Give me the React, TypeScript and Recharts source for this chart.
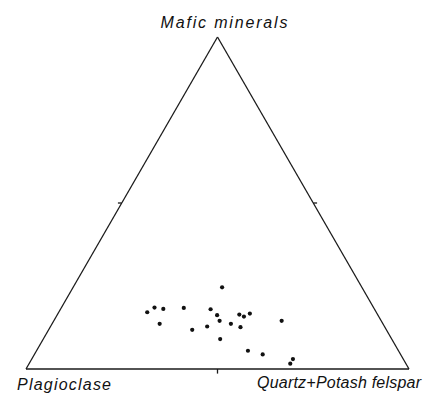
import React from "react";
import { ScatterChart, Scatter, XAxis, YAxis, ReferenceLine, ReferenceDot } from "recharts";

// Modal composition of each sample, in percent (mafic minerals, plagioclase, quartz + potash felspar)
const mafic = [24.6, 17.1, 18.5, 18.1, 18.4, 13.6, 11.8, 12.8, 18.0, 16.2, 14.5, 9.0, 13.6, 16.4, 15.8, 16.7, 12.6, 14.5, 5.5, 4.4, 3.0, 1.6];
const plagioclase = [36.5, 59.8, 57.2, 55.1, 49.6, 58.3, 50.7, 46.3, 42.8, 42.0, 42.2, 44.8, 39.7, 36.1, 35.2, 33.2, 37.7, 26.0, 39.3, 36.0, 28.8, 30.2];
const quartzFelspar = [38.9, 23.1, 24.3, 26.8, 32.0, 28.1, 37.5, 40.9, 39.2, 41.8, 43.3, 46.2, 46.7, 47.5, 49.0, 50.1, 49.7, 59.5, 55.2, 59.6, 68.2, 68.2];

// Corner names of the diagram
const apexLabels = ["Mafic minerals", "Plagioclase", "Quartz+Potash felspar"];

const H = Math.sqrt(3) / 2 * 100;

// Ternary -> cartesian (plagioclase at bottom-left, quartz+felspar bottom-right, mafic at apex)
const points = mafic.map((m, i) => {
  const total = m + plagioclase[i] + quartzFelspar[i];
  const M = (m / total) * 100;
  const Q = (quartzFelspar[i] / total) * 100;
  return { x: Q + M / 2, y: (M * Math.sqrt(3)) / 2 };
});

const Dot = (props: any) => <circle cx={props.cx} cy={props.cy} r={2.1} fill="#111" />;

const LabelText = (dx: number, dy: number, len: number, text: string) => (props: any) => (
  <text
    x={props.cx + dx}
    y={props.cy + dy}
    textAnchor="start"
    textLength={len}
    lengthAdjust="spacing"
    style={{
      fontFamily: "'Liberation Sans', Arial, sans-serif",
      fontStyle: "italic",
      fontSize: 16,
      fill: "#111",
    }}
  >
    {text}
  </text>
);

const line = { stroke: "#1a1a1a", strokeWidth: 1.3, ifOverflow: "visible" as const };

export default function App() {
  return (
    <div style={{ background: "#fff", width: 426, height: 397, overflow: "hidden" }}>
      <style>{"body{margin:0;overflow:hidden}"}</style>
      <ScatterChart width={426} height={397} margin={{ top: 37, left: 26, right: 17, bottom: 28 }}>
        <XAxis type="number" dataKey="x" domain={[0, 100]} hide allowDataOverflow />
        <YAxis type="number" dataKey="y" domain={[0, H]} hide allowDataOverflow />
        {/* triangle sides */}
        <ReferenceLine segment={[{ x: 0, y: 0 }, { x: 100, y: 0 }]} {...line} />
        <ReferenceLine segment={[{ x: 0, y: 0 }, { x: 50, y: H }]} {...line} />
        <ReferenceLine segment={[{ x: 100, y: 0 }, { x: 50, y: H }]} {...line} />
        {/* 50% marks on each side */}
        <ReferenceLine segment={[{ x: 50, y: 0 }, { x: 50, y: -1.2 }]} {...line} />
        <ReferenceLine segment={[{ x: 25, y: H / 2 }, { x: 24, y: H / 2 }]} {...line} />
        <ReferenceLine segment={[{ x: 75, y: H / 2 }, { x: 76, y: H / 2 }]} {...line} />
        <ReferenceDot x={50} y={H} r={0} ifOverflow="visible" shape={LabelText(-57, -9, 127, apexLabels[0])} />
        <ReferenceDot x={0} y={0} r={0} ifOverflow="visible" shape={LabelText(-9, 21, 94, apexLabels[1])} />
        <ReferenceDot x={100} y={0} r={0} ifOverflow="visible" shape={LabelText(-152, 19, 164, apexLabels[2])} />
        <Scatter data={points} shape={Dot} isAnimationActive={false} />
      </ScatterChart>
    </div>
  );
}
